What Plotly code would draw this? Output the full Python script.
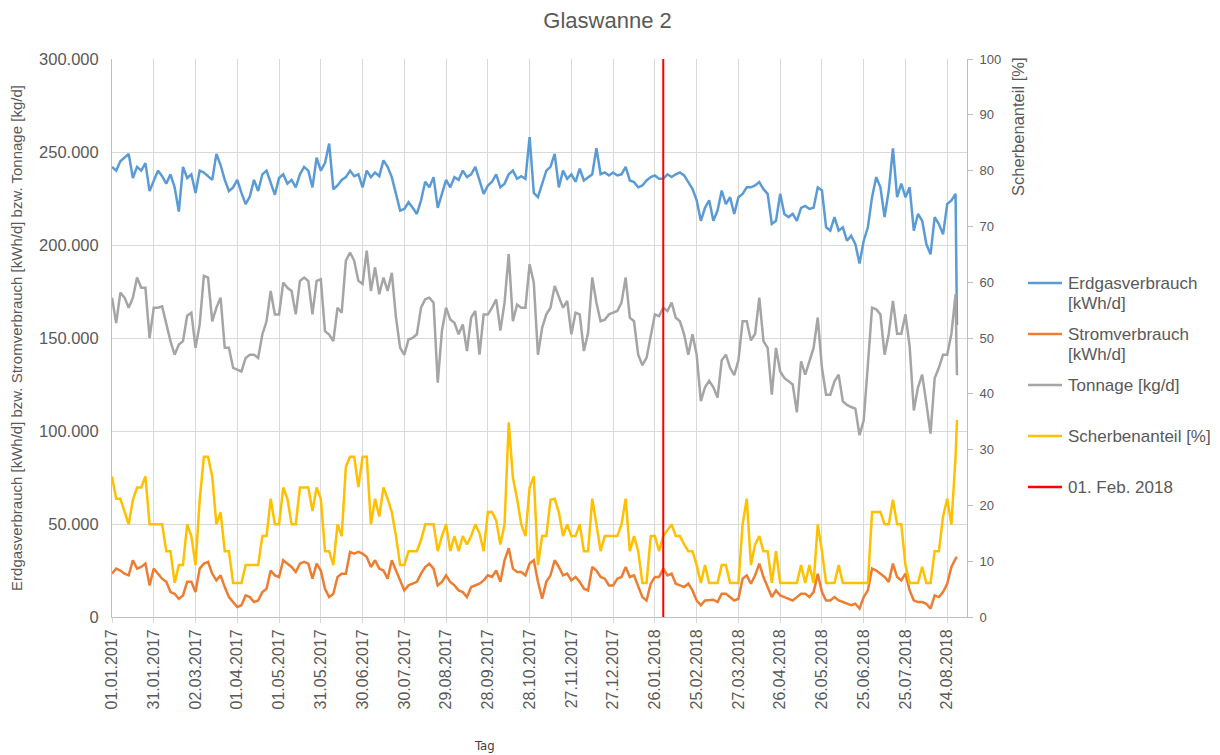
import pandas as pd
import plotly.graph_objects as go

# Messtage im 3-Tage-Raster (01.01.2017 - 30.08.2018) plus letzter Messtag
tage = list(pd.date_range("2017-01-01", "2018-08-30", freq="3D")) + [pd.Timestamp("2018-08-31")]

# Erdgasverbrauch in Tausend kWh/d
erdgas_tsd = [
    242, 240, 245, 247, 249, 236, 242, 240, 244, 229,
    235, 240, 237, 233, 238, 231, 218, 242, 236, 238,
    228, 240, 239, 237, 235, 249, 243, 235, 229, 231,
    235, 228, 222, 226, 235, 229, 238, 240, 233, 227,
    236, 238, 233, 235, 231, 238, 242, 240, 231, 247,
    240, 244, 254.5, 230, 232, 235, 236.5, 240, 237, 238,
    231, 240, 236.5, 239, 237, 245.5, 242, 236.5, 227.5, 218.5,
    219.4, 223, 220, 216.7, 224, 234, 231, 236.5, 220, 227.5,
    235, 231, 236.5, 235, 240, 236.5, 238, 242, 234, 227.5,
    232, 234, 238, 231, 233, 238, 240, 235.6, 237, 235.6,
    258,
    228, 225.7, 233, 240, 242, 249, 231, 240, 235.6, 238,
    234, 241, 234.7, 236.5, 238, 252, 238, 239, 237.4, 239,
    237.4, 238, 242, 234.7, 233.8, 231, 232, 234.7, 236.5, 237.4,
    235.6, 235.6, 238, 236.5, 238, 239, 237.4, 233.8, 230.2, 224,
    213, 220, 224, 213, 218.5, 229.3, 222, 225.7, 216.7, 225.7,
    227.5, 231, 231, 232, 233.8, 230, 227.5, 211.3, 213, 227.5,
    216.7, 215, 216.7, 213, 220, 221, 219.4, 220, 231, 229.3,
    209.5, 207.7, 215, 207.7, 209.5, 202.3, 205, 200.5, 190, 202.3,
    209.5, 225.7, 236.5, 231, 215, 229.3, 252, 225.7, 233, 225.7,
    231, 207.7, 216.7, 213, 200.5, 195, 215, 211.3, 205.7, 222,
    224, 227.5,
    157,
]

# Stromverbrauch in Tausend kWh/d
strom_tsd = [
    23.3, 26, 25, 23.3, 22.4, 30.5, 26, 26.9, 28.7, 17,
    26, 23.3, 20.6, 18.9, 13.4, 12.5, 9.8, 11.6, 18.9, 18.9,
    13.4, 26, 28.7, 29.6, 23.3, 19.7, 22.4, 16.1, 10.7, 8,
    5.4, 6.3, 11.6, 10.7, 8, 8.9, 13.4, 15.2, 25, 22.4,
    21.5, 30.5, 28.7, 26.9, 24.2, 28.7, 29.6, 28.7, 20.6, 28.7,
    25, 15.2, 10.7, 12.5, 21.5, 23.3, 23.3, 35, 34.1, 35,
    34.1, 32.3, 26.9, 30.5, 26, 25, 20.6, 30.5, 25, 19.7,
    14.3, 17, 17.9, 18.9, 23.3, 26.9, 28.7, 26, 17, 18.9,
    22.4, 18.9, 17, 14.3, 13.4, 10.7, 16.1, 17, 17.9, 19.7,
    22.4, 21.5, 25, 18.9, 30.5, 37, 26, 24.2, 24.2, 22.4,
    28.7,
    30.5, 18.9, 9.8, 18.9, 22.4, 30.5, 26.9, 22.4, 23.3, 19.7,
    21.5, 18.9, 15.2, 14.3, 26.9, 25, 21.5, 20.6, 17, 17,
    20.6, 21.5, 26.9, 21.5, 22.4, 16.1, 10.7, 8.9, 17.9, 21.5,
    21.5, 26, 22.4, 23.3, 17.9, 17, 16.1, 17.9, 14.3, 8.9,
    6.3, 8.9, 8.9, 9.3, 8, 12.5, 12.5, 10.7, 8.9, 9.8,
    20.6, 22.4, 17.9, 22.4, 28.7, 21.5, 16.1, 10.7, 14.3, 11.6,
    10.7, 9.8, 8.9, 10.7, 12.5, 12.5, 10.7, 13.4, 23.3, 13.4,
    8.9, 8.9, 10.7, 8.9, 8, 7.1, 6.3, 7.1, 4.5, 10.7,
    14.3, 26, 25, 23.3, 21.5, 18.9, 28.7, 21.5, 19.7, 23.3,
    14.3, 8.9, 8, 8, 7.1, 4.5, 11.6, 10.7, 13.4, 17.9,
    26.9, 31.4,
    32.3,
]

# Tonnage in Tausend kg/d
tonnage_tsd = [
    171.7, 158, 174.4, 171.7, 166.3, 171.7, 182.5, 177, 177, 150,
    166.3, 166.3, 167, 157.3, 148.3, 141, 146.5, 148.3, 162, 163.6,
    144.7, 157.3, 183.4, 182.5, 159, 166.3, 171.7, 144.7, 144.7, 133.9,
    133, 132, 139.3, 141, 141, 139.3, 151.9, 159, 175.3, 162.7,
    162.7, 179.8, 177, 175.3, 162.7, 180.7, 182.5, 180.7, 162.7, 180.7,
    181.6, 153.7, 151.9, 148.3, 166.3, 163.6, 191.5, 196, 191.5, 180.7,
    179, 197, 175.3, 188, 173.5, 182.5, 175.3, 185, 161, 144.7,
    141, 149.2, 150, 152, 166.3, 170.8, 171.7, 169, 126, 153.7,
    166.3, 160, 158.2, 152, 157.3, 143, 161, 164.5, 141, 162.7,
    162.7, 166.3, 170.8, 154, 169, 195.1, 159, 168, 166.3, 166.3,
    189.7,
    179.8, 141, 155.5, 162.7, 166.3, 178, 171.7, 166.3, 169.9, 152,
    163.6, 162.7, 143, 152.8, 182.5, 169, 159, 159.8, 162.7, 163.6,
    164.5, 169, 182.5, 160.9, 159, 141, 135.4, 139.3, 152, 162.7,
    161.8, 166.3, 164.5, 169, 160.9, 159, 152, 141, 152, 141,
    116, 123.5, 127, 123.5, 118, 138, 141, 134, 130, 138,
    159, 159, 148.7, 152.3, 171.7, 148.3, 144.7, 119.5, 144.7, 132,
    128.5, 126.7, 125, 110, 137.5, 130.3, 137.5, 144.7, 161, 134,
    119.5, 119.5, 126.7, 130.3, 116, 114, 112.9, 112, 97.7, 105.7,
    135.7, 166.3, 165.4, 162.7, 141, 152.3, 170, 152.3, 152.3, 162.7,
    145.6, 111, 123.5, 130.3, 115, 98.6, 128.5, 134, 141, 141,
    152.3, 173.5,
    130,
]

# Scherbenanteil in %
scherben_pct = [
    25.2, 21.2, 21.2, 18.8, 16.6, 21, 23.2, 23.2, 25.2, 16.6,
    16.6, 16.6, 16.6, 11.8, 11.8, 6.1, 9.3, 9.3, 16.6, 14.5,
    9.3, 21, 28.7, 28.7, 25.2, 16.6, 18.8, 11.8, 11.8, 6.1,
    6.1, 6.1, 9.3, 9.3, 9.3, 9.3, 14.5, 14.5, 21.2, 16.6,
    16.6, 23.2, 21.2, 16.6, 16.6, 23.2, 23.2, 23.2, 19, 23.2,
    21.2, 11.8, 11.8, 9.3, 16.6, 14.5, 26.9, 28.7, 28.7, 23.3,
    28.7, 28.7, 16.6, 21.2, 18, 23.2, 21.2, 18.8, 14.5, 9.3,
    9.3, 11.8, 11.8, 11.8, 13.8, 16.6, 16.6, 16.6, 11.8, 14.5,
    16.6, 11.8, 14.5, 11.8, 14.5, 13, 14.5, 16.6, 15, 11.8,
    18.8, 18.8, 17.3, 13, 16.6, 34.9, 25, 21.2, 16.6, 14.5,
    23.2,
    25.2, 9.3, 14.5, 14.5, 21, 21.2, 18.8, 14.5, 16.6, 14.5,
    14.5, 16.6, 11.8, 11.8, 21.2, 16.6, 11.8, 14.5, 14.5, 14.5,
    14.5, 16.6, 21.2, 11.8, 14.5, 11.8, 6.1, 6.1, 14.5, 14.5,
    11.8, 14.5, 15.5, 16.6, 14.5, 14.5, 13, 11.8, 11.8, 9.3,
    6.1, 9.3, 6.1, 6.1, 6.1, 9.3, 9.3, 6.1, 6.1, 6.1,
    16.6, 21.2, 9.3, 13, 14.5, 11.8, 11.8, 6.1, 11.8, 6.1,
    6.1, 6.1, 6.1, 6.1, 9.3, 6.1, 9.3, 6.1, 16.6, 11.8,
    6.1, 6.1, 6.1, 9.3, 6.1, 6.1, 6.1, 6.1, 6.1, 6.1,
    6.1, 18.8, 18.8, 18.8, 16.6, 16.6, 21, 16.6, 16.6, 9.3,
    6.1, 6.1, 6.1, 9, 6.1, 6.1, 11.8, 11.8, 18, 21.2,
    16.6, 28.7,
    35.3,
]

stichtag = "2018-02-01"

for reihe in (erdgas_tsd, strom_tsd, tonnage_tsd, scherben_pct):
    assert len(reihe) == len(tage), len(reihe)

GRAU_TEXT = "#595959"
FONT = "Liberation Sans, Arial, sans-serif"

# Pixelrahmen der Zeichenfläche
PLOT_L, PLOT_R, PLOT_T, PLOT_B = 112, 967, 59, 617


def px_x(px):
    return (px - PLOT_L) / (PLOT_R - PLOT_L)


def px_y(py):
    return (PLOT_B - py) / (PLOT_B - PLOT_T)


fig = go.Figure()

fig.add_trace(go.Scatter(x=tage, y=[v * 1000 for v in erdgas_tsd], mode="lines",
                         name="Erdgasverbrauch [kWh/d]", line=dict(color="#5B9BD5", width=2.5)))
fig.add_trace(go.Scatter(x=tage, y=[v * 1000 for v in strom_tsd], mode="lines",
                         name="Stromverbrauch [kWh/d]", line=dict(color="#ED7D31", width=2.5)))
fig.add_trace(go.Scatter(x=tage, y=[v * 1000 for v in tonnage_tsd], mode="lines",
                         name="Tonnage [kg/d]", line=dict(color="#A5A5A5", width=2.5)))
fig.add_trace(go.Scatter(x=tage, y=scherben_pct, mode="lines", yaxis="y2",
                         name="Scherbenanteil [%]", line=dict(color="#FFC000", width=2.5)))
fig.add_trace(go.Scatter(x=[stichtag, stichtag], y=[0, 100], mode="lines", yaxis="y2",
                         name="01. Feb. 2018", line=dict(color="#FF0000", width=2)))

# Legende rechts neben der Zeichenfläche
legende = [
    ("Erdgasverbrauch", "[kWh/d]", "#5B9BD5", 283),
    ("Stromverbrauch", "[kWh/d]", "#ED7D31", 334),
    ("Tonnage [kg/d]", None, "#A5A5A5", 385),
    ("Scherbenanteil [%]", None, "#FFC000", 436),
    ("01. Feb. 2018", None, "#FF0000", 487),
]
shapes = []
annotations = []
for zeile1, zeile2, farbe, ypx in legende:
    shapes.append(dict(type="line", xref="paper", yref="paper",
                       x0=px_x(1028), x1=px_x(1062), y0=px_y(ypx), y1=px_y(ypx),
                       line=dict(color=farbe, width=2.5)))
    annotations.append(dict(text=zeile1, xref="paper", yref="paper", x=px_x(1066), y=px_y(ypx),
                            xanchor="left", yanchor="middle", showarrow=False,
                            font=dict(size=17, color=GRAU_TEXT, family=FONT)))
    if zeile2:
        annotations.append(dict(text=zeile2, xref="paper", yref="paper", x=px_x(1066), y=px_y(ypx + 20),
                                xanchor="left", yanchor="middle", showarrow=False,
                                font=dict(size=17, color=GRAU_TEXT, family=FONT)))

# Titel der rechten Achse (oben ausgerichtet)
annotations.append(dict(text="Scherbenanteil [%]", textangle=-90, xref="paper", yref="paper",
                        x=px_x(1018), y=px_y(127), xanchor="center", yanchor="middle",
                        showarrow=False, font=dict(size=16.5, color=GRAU_TEXT, family=FONT)))
# Titel der x-Achse
annotations.append(dict(text="Tag", xref="paper", yref="paper", x=px_x(484), y=px_y(745),
                        xanchor="center", yanchor="middle", showarrow=False,
                        font=dict(size=13, color="#404040", family="Liberation Sans Narrow, DejaVu Sans Condensed, sans-serif")))

fig.update_layout(
    width=1220, height=755,
    margin=dict(l=PLOT_L, r=1220 - PLOT_R, t=PLOT_T, b=755 - PLOT_B, autoexpand=False),
    paper_bgcolor="white", plot_bgcolor="white",
    separators=",.",
    showlegend=False,
    font=dict(family=FONT, color=GRAU_TEXT),
    title=dict(text="Glaswanne 2", x=0.498, xref="container", y=1 - 20 / 755, yref="container",
               xanchor="center", yanchor="middle", font=dict(size=22, color=GRAU_TEXT, family=FONT)),
    xaxis=dict(
        type="date", range=["2017-01-01", "2018-09-07 05:00"],
        tick0="2017-01-01", dtick=30 * 86400000, tickformat="%d.%m.%Y", tickangle=-90,
        showgrid=True, gridcolor="#D9D9D9", gridwidth=1,
        showline=True, linecolor="#BFBFBF", linewidth=1,
        ticks="outside", ticklen=5, tickcolor="#D9D9D9",
        tickfont=dict(size=16, color=GRAU_TEXT, family=FONT),
        automargin=False, zeroline=False,
    ),
    yaxis=dict(
        range=[0, 300000], dtick=50000, tickformat=",d",
        showgrid=True, gridcolor="#D9D9D9", gridwidth=1,
        showline=True, linecolor="#BFBFBF", linewidth=1, zeroline=False,
        ticks="", tickfont=dict(size=16.5, color=GRAU_TEXT, family=FONT), ticklabelstandoff=9,
        title=dict(text="Erdgasverbrauch [kWh/d] bzw. Stromverbrauch [kWh/d] bzw. Tonnage [kg/d]",
                   font=dict(size=15, color=GRAU_TEXT, family=FONT), standoff=12),
        automargin=False,
    ),
    yaxis2=dict(
        overlaying="y", side="right", range=[0, 100], dtick=10,
        showgrid=False, showline=True, linecolor="#BFBFBF", linewidth=1, zeroline=False,
        ticks="outside", ticklen=5, tickcolor="#BFBFBF",
        tickfont=dict(size=13, color=GRAU_TEXT, family=FONT), ticklabelstandoff=4,
        automargin=False,
    ),
    shapes=shapes,
    annotations=annotations,
)

fig.write_html("out.html")
